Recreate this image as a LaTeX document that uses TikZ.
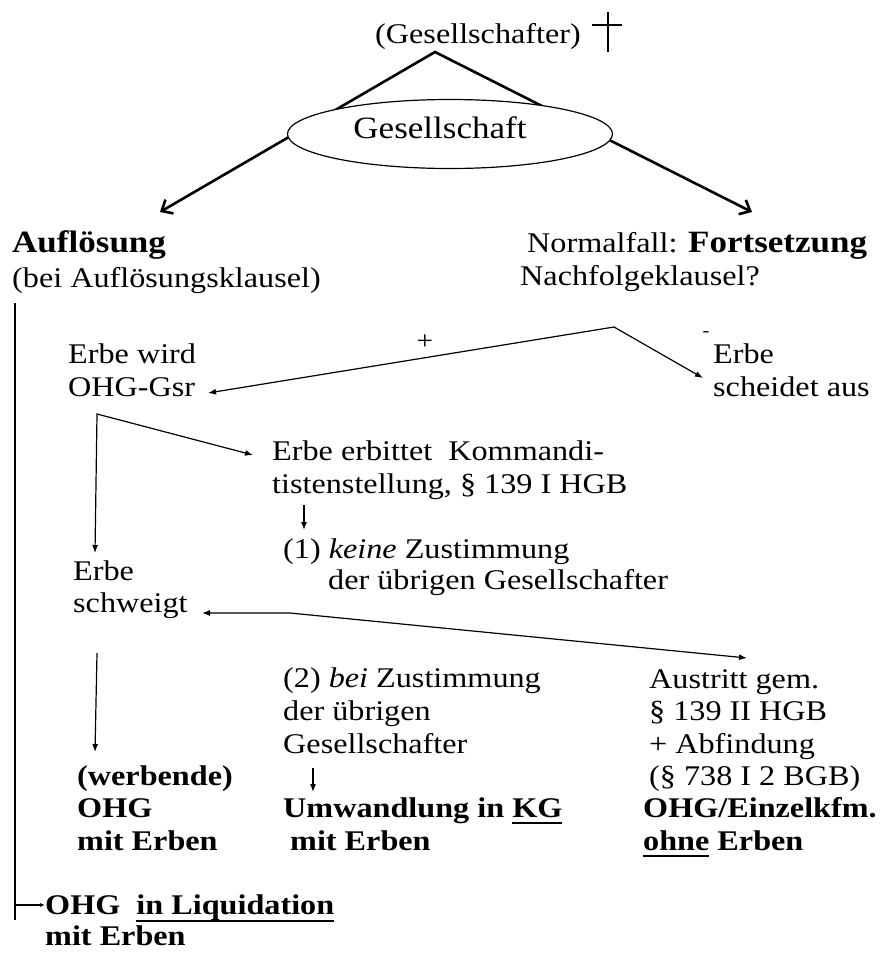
\documentclass[tikz,border=0pt]{standalone}
\usepackage{fontspec}
\setmainfont{Liberation Serif}[FakeStretch=1.13]
\usetikzlibrary{arrows.meta,shapes.geometric}
\newsavebox{\ulbox}
\newcommand{\ulx}[1]{\sbox{\ulbox}{#1}\rlap{\rule[-7pt]{\wd\ulbox}{2pt}}\usebox{\ulbox}}
\newcommand{\txtlines}[1]{\begin{tabular}[t]{@{}l@{}}#1\end{tabular}}
\newcommand{\head}[1]{{\fontsize{31}{33}\selectfont\bfseries #1}}

\begin{document}
\begin{tikzpicture}[x=1pt,y=-1pt,
    txt/.style={anchor=base west,inner sep=0pt,font=\fontsize{28.5}{33}\selectfont},
    txtb/.style={txt,font=\fontsize{28.5}{33}\selectfont\bfseries},
    bigarrow/.style={line width=2.6pt,line join=miter,
      {Straight Barb[length=9pt,width=16pt]}-{Straight Barb[length=9pt,width=16pt]}},
    arrow/.style={line width=1.2pt,-{Latex[length=8pt,width=6pt]}},
    twoway/.style={line width=1.2pt,{Latex[length=8pt,width=6pt]}-{Latex[length=8pt,width=6pt]}},
    line/.style={line width=1.2pt}]
    \useasboundingbox (0,0) rectangle (879,956);

    % Top
    \node[txt] (gsr) at (375,43) {(Gesellschafter)};
    \coordinate (cross) at (608,25);
    \draw[line] (cross) +(0,-13) -- +(0,27);
    \draw[line] (cross) +(-16,0) -- +(14,0);
    \coordinate (apex) at (435,52);
    \coordinate (tipL) at (160,212);
    \coordinate (tipR) at (752,212);
    \draw[bigarrow] (tipL) -- (apex) -- (tipR);
    \node[draw,ellipse,fill=white,line width=1.2pt,minimum width=325pt,minimum height=69pt,
      text height=21pt,text depth=12pt,font=\fontsize{31}{33}\selectfont]
      (ges) at (450,134) {Gesellschaft\hspace*{20pt}};

    % Branches
    \node[txt,font=\fontsize{28.5}{35}\selectfont] (aufl) at (12,252)
      {\txtlines{\head{Auflösung}\\(bei Auflösungsklausel)}};
    \node[txt] (fort) at (520,252)
      {\txtlines{\hspace*{7pt}Normalfall: \head{Fortsetzung}\\Nachfolgeklausel?}};

    % Dissolution
    \coordinate (auflTop) at (15,303);
    \coordinate (auflBot) at (15,920);
    \coordinate (liqIn) at (15,905);
    \node[anchor=north west,inner sep=0pt,align=left,font=\fontsize{28.5}{31}\selectfont\bfseries]
      (liq) at (45,895) {OHG\ \ \ulx{in Liquidation}\\mit Erben};
    \draw[line] (auflTop) -- (auflBot);
    \draw[line,-{Latex[length=5pt,width=4pt]}] (liqIn) -- (liqIn -| liq.west);

    % Succession clause
    \coordinate (fork) at (614,327);
    \coordinate (wirdIn) at (208,393);
    \coordinate (ausIn) at (703,378);
    \node[txt] (wird) at (68,363) {\txtlines{Erbe wird\\OHG-Gsr}};
    \node[txt] (aus) at (713,363) {\txtlines{Erbe\\scheidet aus}};
    \draw[twoway] (wirdIn) -- (fork) -- (ausIn);
    \node[font=\fontsize{26}{28}\selectfont,inner sep=0pt] (plus) at (425,342) {+};
    \node[font=\fontsize{18}{20}\selectfont,inner sep=0pt] (minus) at (706,334) {-};

    % Heir becomes partner
    \coordinate (split) at (97,414);
    \coordinate (schwIn) at (95,553);
    \coordinate (bittIn) at (253,455);
    \draw[twoway] (schwIn) -- (split) -- (bittIn);
    \node[txt] (bitt) at (272,460)
      {\txtlines{Erbe erbittet\ \ Kommandi-\\tistenstellung, § 139 I HGB}};
    \coordinate (bittOut) at (304,505);
    \coordinate (keineIn) at (304,530);
    \draw[arrow] (bittOut) -- (keineIn);
    \node[txt,font=\fontsize{28.5}{31}\selectfont] (keine) at (283,558)
      {\txtlines{(1) \textit{keine} Zustimmung\\\hspace*{45pt}der übrigen Gesellschafter}};

    % Heir stays silent
    \node[txt,font=\fontsize{28.5}{32}\selectfont] (schw) at (73,580) {\txtlines{Erbe\\schweigt}};
    \coordinate (junc) at (290,613);
    \coordinate (schwBack) at (202,613);
    \coordinate (austIn) at (747,658);
    \draw[twoway] (schwBack) -- (junc) -- (austIn);
    \coordinate (schwOut) at (97,653);
    \coordinate (werbIn) at (95,752);
    \draw[arrow] (schwOut) -- (werbIn);

    % Results
    \node[txtb,font=\fontsize{28.5}{32.5}\selectfont\bfseries] (werb) at (77,785)
      {\txtlines{(werbende)\\OHG\\mit Erben}};
    \node[txt] (bei) at (283,687)
      {\txtlines{(2) \textit{bei} Zustimmung\\der übrigen\\Gesellschafter}};
    \coordinate (beiOut) at (313,768);
    \coordinate (kgIn) at (313,792);
    \draw[arrow] (beiOut) -- (kgIn);
    \node[txtb] (kg) at (283,817) {\txtlines{Umwandlung in \ulx{KG}\\\hspace*{7pt}mit Erben}};
    \node[txt,font=\fontsize{28.5}{32.5}\selectfont] (austritt) at (649,688)
      {\txtlines{Austritt gem.\\§ 139 II HGB\\+ Abfindung\\(§ 738 I 2 BGB)}};
    \node[txtb] (ohne) at (643,817) {\txtlines{OHG/Einzelkfm.\\\ulx{ohne} Erben}};
\end{tikzpicture}
\end{document}
